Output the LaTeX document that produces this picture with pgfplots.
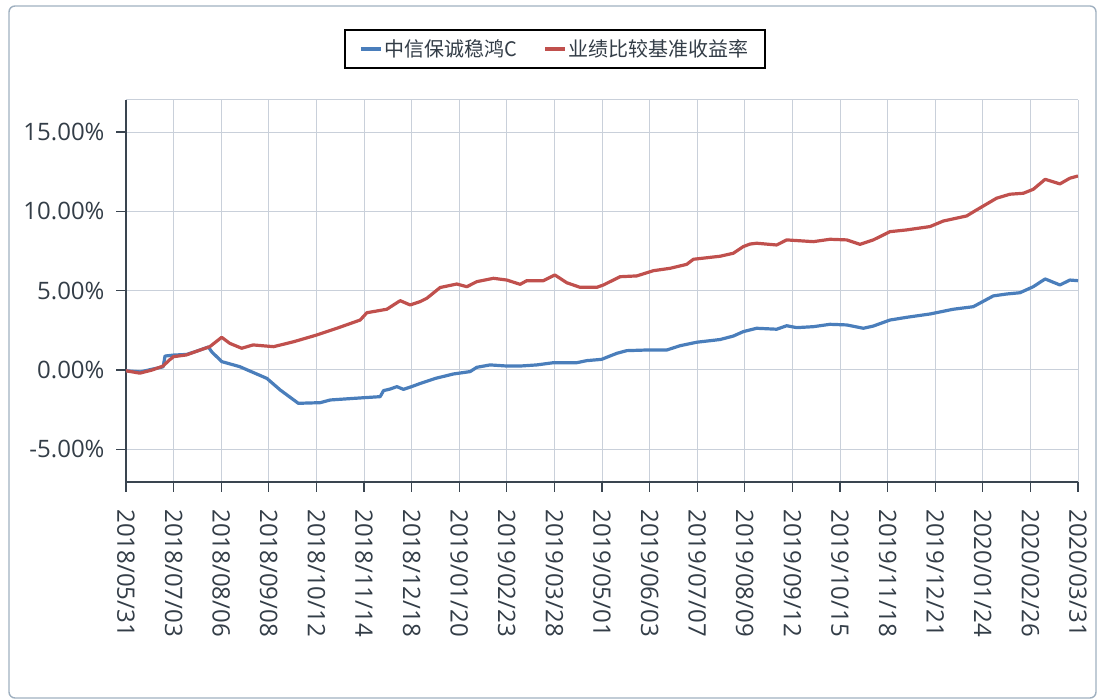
\documentclass[border=0pt]{standalone}
\usepackage{fontspec}
\usepackage{pgfplots}
\pgfplotsset{compat=1.18}
\setmainfont{Open Sans}
\newfontfamily\cjk{Noto Sans CJK SC}
\definecolor{fundblue}{HTML}{4A7EBB}
\definecolor{benchred}{HTML}{C0504D}
\definecolor{txt}{HTML}{333D47}
\definecolor{axln}{HTML}{3A4550}
\definecolor{gridc}{HTML}{C9D0DA}
\definecolor{framec}{HTML}{9FB0C0}
\begin{document}
\begin{tikzpicture}
\useasboundingbox (0pt,0pt) rectangle (1098pt,700pt);
\draw[framec, line width=1.4pt, rounded corners=6pt] (9pt,2pt) rectangle (1096pt,694pt);
\begin{axis}[
  at={(126pt,218pt)}, anchor=south west,
  scale only axis, width=952pt, height=382pt,
  xmin=0, xmax=20, ymin=-7.06, ymax=17.02,
  axis x line*=bottom, axis y line*=left,
  x axis line style={-, axln, line width=1.2pt},
  y axis line style={-, axln, line width=1.2pt},
  tick align=outside, major tick length=10pt,
  tick style={axln, line width=1.2pt},
  grid=major, grid style={gridc, line width=1pt},
  xtick={0,...,20},
  xticklabels={2018/05/31,2018/07/03,2018/08/06,2018/09/08,2018/10/12,2018/11/14,2018/12/18,2019/01/20,2019/02/23,2019/03/28,2019/05/01,2019/06/03,2019/07/07,2019/08/09,2019/09/12,2019/10/15,2019/11/18,2019/12/21,2020/01/24,2020/02/26,2020/03/31},
  xticklabel style={rotate=-90, anchor=west},
  ytick={-5,0,5,10,15},
  yticklabels={-5.00\%,0.00\%,5.00\%,10.00\%,15.00\%},
  extra y ticks={17.02}, extra y tick labels={},
  extra y tick style={major tick length=0pt, grid=major},
  tick label style={font=\fontsize{24}{28}\selectfont, color=txt},
  xticklabel shift=14pt, yticklabel shift=8pt,
  legend style={at={(0.4506,1.1335)}, anchor=center, draw=black,
    line width=1.6pt, inner xsep=14pt, inner ysep=8pt,
    font=\cjk\fontsize{20}{24}\selectfont, text=txt},
  legend columns=-1,
  legend image code/.code={\draw[#1, line width=3.5pt] (0pt,0pt) -- (20pt,0pt);},
  /tikz/every even column/.append style={column sep=24pt},
]
\addplot[fundblue, line width=3.2pt, line join=round] coordinates {
(0,-0.05) (0.3,-0.12) (0.55,0.05) (0.78,0.2) (0.82,0.88) (1.0,0.94) (1.27,0.98)
(1.5,1.2) (1.73,1.45) (1.8,1.15) (2.01,0.53) (2.39,0.21) (2.96,-0.53) (3.24,-1.26)
(3.62,-2.1) (4.08,-2.06) (4.29,-1.89) (4.78,-1.79) (5.34,-1.68) (5.41,-1.3)
(5.55,-1.2) (5.69,-1.05) (5.83,-1.22) (6.0,-1.05) (6.18,-0.85) (6.5,-0.53)
(6.88,-0.25) (7.23,-0.1) (7.37,0.17) (7.65,0.32) (8.0,0.25) (8.28,0.25)
(8.63,0.32) (8.98,0.46) (9.47,0.46) (9.68,0.59) (9.99,0.67) (10.31,1.05)
(10.52,1.22) (10.94,1.26) (11.36,1.26) (11.64,1.53) (11.99,1.75) (12.48,1.92)
(12.76,2.14) (12.97,2.42) (13.25,2.63) (13.67,2.57) (13.88,2.79) (14.09,2.67)
(14.44,2.73) (14.79,2.88) (15.14,2.84) (15.49,2.63) (15.7,2.77) (16.05,3.15)
(16.4,3.32) (16.89,3.53) (17.38,3.83) (17.8,3.99) (18.22,4.67) (18.5,4.79)
(18.78,4.87) (19.06,5.25) (19.31,5.74) (19.62,5.36) (19.83,5.67) (20,5.63)
};
\addlegendentry{中信保诚稳鸿C}
\addplot[benchred, line width=3.2pt, line join=round] coordinates {
(0,-0.05) (0.29,-0.2) (0.55,0.0) (0.78,0.25) (0.9,0.6) (1.0,0.84) (1.27,0.95)
(1.5,1.2) (1.76,1.47) (2.01,2.06) (2.18,1.68) (2.43,1.37) (2.67,1.58) (3.1,1.47)
(3.52,1.78) (4.0,2.2) (4.43,2.63) (4.92,3.15) (5.06,3.61) (5.48,3.83) (5.76,4.37)
(5.97,4.1) (6.18,4.31) (6.32,4.52) (6.6,5.2) (6.95,5.42) (7.16,5.25) (7.37,5.57)
(7.72,5.78) (8.0,5.67) (8.28,5.4) (8.42,5.63) (8.77,5.63) (9.01,5.99) (9.26,5.5)
(9.54,5.21) (9.89,5.21) (10.03,5.36) (10.38,5.88) (10.73,5.93) (11.08,6.26)
(11.43,6.41) (11.78,6.66) (11.92,6.98) (12.48,7.17) (12.76,7.36) (12.97,7.78)
(13.11,7.94) (13.25,7.99) (13.67,7.88) (13.88,8.2) (14.44,8.09) (14.79,8.24)
(15.14,8.2) (15.42,7.92) (15.7,8.2) (16.05,8.72) (16.4,8.83) (16.89,9.04)
(17.17,9.39) (17.66,9.71) (17.87,10.09) (18.29,10.83) (18.57,11.08) (18.85,11.14)
(19.06,11.39) (19.31,12.02) (19.62,11.73) (19.83,12.09) (20,12.23)
};
\addlegendentry{业绩比较基准收益率}
\end{axis}
\end{tikzpicture}
\end{document}
